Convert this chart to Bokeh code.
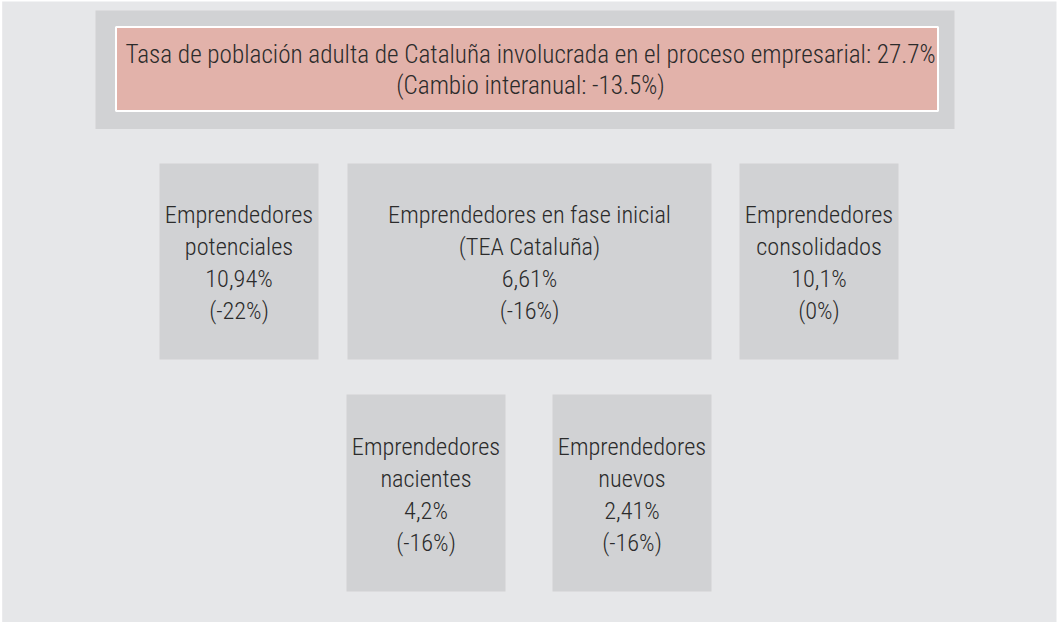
from bokeh.plotting import figure
from bokeh.models import Range1d, ColumnDataSource
from bokeh.core.properties import value
from bokeh.embed import file_html
from bokeh.resources import INLINE

# ---- data ----
headline_label = "Tasa de población adulta de Cataluña involucrada en el proceso empresarial"
headline_rate = "27.7%"
headline_change = "-13.5%"

box_names = [
    ["Emprendedores", "potenciales"],
    ["Emprendedores en fase inicial", "(TEA Cataluña)"],
    ["Emprendedores", "consolidados"],
    ["Emprendedores", "nacientes"],
    ["Emprendedores", "nuevos"],
]
box_rates = ["10,94%", "6,61%", "10,1%", "4,2%", "2,41%"]
box_changes = ["(-22%)", "(-16%)", "(0%)", "(-16%)", "(-16%)"]

# ---- layout (page pixel coordinates) ----
box_left = [159, 347, 739, 346, 552]
box_right = [318, 711, 898, 505, 711]
box_top = [163, 163, 163, 394, 394]
box_bottom = [359, 359, 359, 591, 591]

BG = "#e6e7e9"
BOX = "#d1d2d4"
PINK = "#e2b2aa"
TXT = "#2b2b2b"
FONT = "'Roboto Condensed Light', 'Roboto Condensed'"
LINE_H = 32

p = figure(width=1058, height=623, x_range=Range1d(0, 1058), y_range=Range1d(623, 0),
           output_backend="svg", toolbar_location=None, min_border=0,
           background_fill_color="white", border_fill_color="white", outline_line_color=None)
p.axis.visible = False
p.grid.visible = False

# page panel
p.quad(left=[1.7], right=[1056], top=[1], bottom=[621.5], fill_color=BG, line_color=None)
# outer band around headline
p.quad(left=[95], right=[954], top=[10], bottom=[128.5], fill_color=BOX, line_color=None)
# pink headline box with white border
p.quad(left=[115.5], right=[937.5], top=[26.5], bottom=[110.5], fill_color=PINK,
       line_color="white", line_width=2)

# grey boxes
p.quad(left=box_left, right=box_right, top=box_top, bottom=box_bottom,
       fill_color=BOX, line_color=None)

# headline text
head_lines = [f"{headline_label}: {headline_rate}", f"(Cambio interanual: {headline_change})"]
hcx = (115.5 + 937.5) / 2 + 3.5
hcy = (26.5 + 110.5) / 2 + 1
hsrc = ColumnDataSource(dict(
    x=[hcx] * len(head_lines),
    y=[hcy + (i - (len(head_lines) - 1) / 2) * 31 for i in range(len(head_lines))],
    text=head_lines))
p.text(x="x", y="y", text="text", source=hsrc, text_align="center", text_baseline="middle",
       text_font=value(FONT), text_font_size="25.2px", text_color=TXT)

# box texts
xs, ys, texts = [], [], []
for k in range(len(box_names)):
    lines = box_names[k] + [box_rates[k], box_changes[k]]
    cx = (box_left[k] + box_right[k]) / 2
    cy = (box_top[k] + box_bottom[k]) / 2 + 1
    for i, t in enumerate(lines):
        xs.append(cx)
        ys.append(cy + (i - (len(lines) - 1) / 2) * LINE_H)
        texts.append(t)

src = ColumnDataSource(dict(x=xs, y=ys, text=texts))
p.text(x="x", y="y", text="text", source=src, text_align="center", text_baseline="middle",
       text_font=value(FONT), text_font_size="24.3px", text_color=TXT)

open("out.html", "w").write(file_html(p, INLINE))
